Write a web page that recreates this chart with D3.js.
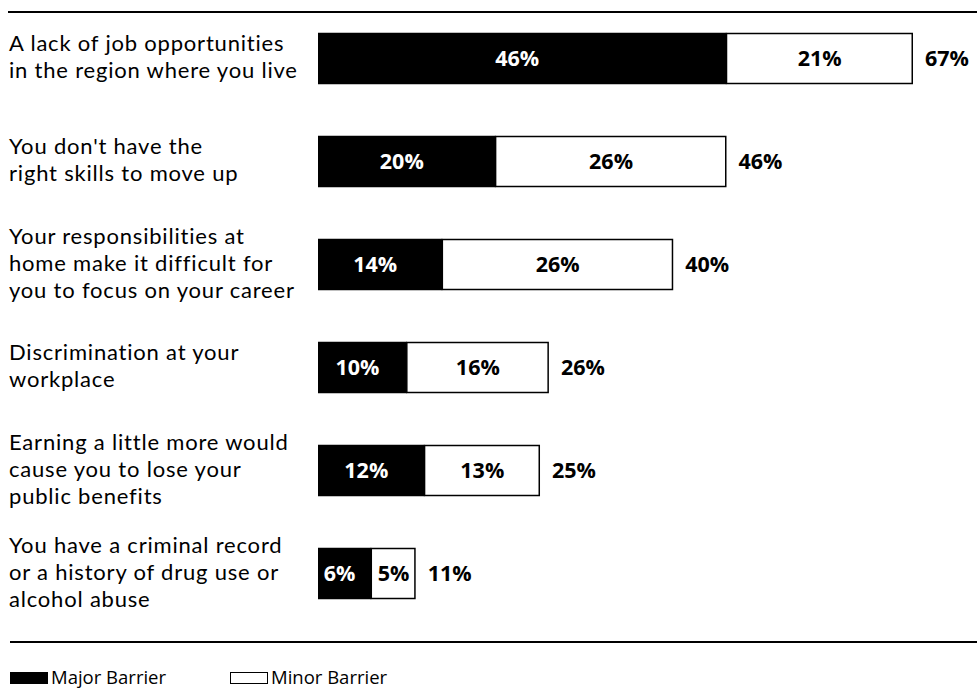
<!DOCTYPE html>
<html>
<head>
<meta charset="utf-8">
<script src="https://cdn.jsdelivr.net/npm/d3@7"></script>
<style>
  html, body { margin: 0; padding: 0; background: #fff; }
  svg { display: block; }
  text { font-family: "Open Sans", "Lato", sans-serif; fill: #000; }
  text.cat { font-family: "Lato", "Open Sans", sans-serif; letter-spacing: 0.8px; }
</style>
</head>
<body>
<svg id="chart" width="977" height="689"></svg>
<script>
// Barrier statements, one row each (line breaks as printed)
const categories = [
  ["A lack of job opportunities", "in the region where you live"],
  ["You don't have the", "right skills to move up"],
  ["Your responsibilities at", "home make it difficult for", "you to focus on your career"],
  ["Discrimination at your", "workplace"],
  ["Earning a little more would", "cause you to lose your", "public benefits"],
  ["You have a criminal record", "or a history of drug use or", "alcohol abuse"]
];
const majorBarrier = [46, 20, 14, 10, 12, 6];
const minorBarrier = [21, 26, 26, 16, 13, 5];
const totals = [67, 46, 40, 26, 25, 11];
const legendLabels = ["Major Barrier", "Minor Barrier"];

const svg = d3.select("#chart");
const W = 977;

const x = d3.scaleLinear().domain([0, 67]).range([318, 913]);
const y = d3.scaleBand().domain(d3.range(categories.length)).range([7, 625]).paddingInner(0.5).paddingOuter(0.25);

// Rules above and below the plot
svg.append("line").attr("x1", 8).attr("x2", W).attr("y1", 12).attr("y2", 12)
  .attr("stroke", "#000").attr("stroke-width", 1.8);
svg.append("line").attr("x1", 10).attr("x2", W).attr("y1", 642).attr("y2", 642)
  .attr("stroke", "#000").attr("stroke-width", 1.8);

const rows = svg.append("g").selectAll("g").data(categories).join("g");

// Category labels, one text per line, centred vertically on the bar
rows.each(function(lines, i) {
  const cy = y(i) + y.bandwidth() / 2;
  const lh = 27;
  lines.forEach((ln, k) => {
    d3.select(this).append("text").attr("class", "cat")
      .attr("font-size", 22)
      .attr("x", 9)
      .attr("y", cy + (k - (lines.length - 1) / 2) * lh + 6)
      .text(ln);
  });
});

// Major barrier segment (black)
rows.append("rect")
  .attr("x", x(0))
  .attr("y", (d, i) => y(i))
  .attr("width", (d, i) => x(majorBarrier[i]) - x(0))
  .attr("height", y.bandwidth())
  .attr("fill", "#000");

// Minor barrier segment (white, outlined)
rows.append("rect")
  .attr("x", (d, i) => x(majorBarrier[i]))
  .attr("y", (d, i) => y(i) + 0.75)
  .attr("width", (d, i) => x(majorBarrier[i] + minorBarrier[i]) - x(majorBarrier[i]) - 0.75)
  .attr("height", y.bandwidth() - 1.5)
  .attr("fill", "#fff").attr("stroke", "#000").attr("stroke-width", 1.5);

// Segment values
rows.append("text")
  .attr("x", (d, i) => (x(0) + x(majorBarrier[i])) / 2 - 5)
  .attr("y", (d, i) => y(i) + y.bandwidth() / 2 + 7.5)
  .attr("text-anchor", "middle")
  .attr("font-size", 21.5).attr("font-weight", "bold")
  .style("fill", "#fff")
  .text((d, i) => majorBarrier[i] + "%");

rows.append("text")
  .attr("x", (d, i) => (x(majorBarrier[i]) + x(majorBarrier[i] + minorBarrier[i])) / 2)
  .attr("y", (d, i) => y(i) + y.bandwidth() / 2 + 7.5)
  .attr("text-anchor", "middle")
  .attr("font-size", 21.5).attr("font-weight", "bold")
  .text((d, i) => minorBarrier[i] + "%");

// Totals to the right of each bar
rows.append("text")
  .attr("x", (d, i) => x(totals[i]) + 12)
  .attr("y", (d, i) => y(i) + y.bandwidth() / 2 + 7.5)
  .attr("font-size", 21.5).attr("font-weight", "bold")
  .text((d, i) => totals[i] + "%");

// Legend
const legend = svg.append("g");
const lx = [10, 230];
legendLabels.forEach((lab, i) => {
  legend.append("rect").attr("x", lx[i] + 0.5).attr("y", 672.5).attr("width", 37).attr("height", 11)
    .attr("fill", i === 0 ? "#000" : "#fff").attr("stroke", "#000").attr("stroke-width", 1);
  legend.append("text").attr("x", lx[i] + 41).attr("y", 684)
    .attr("font-size", 18.5).text(lab);
});
</script>
</body>
</html>
